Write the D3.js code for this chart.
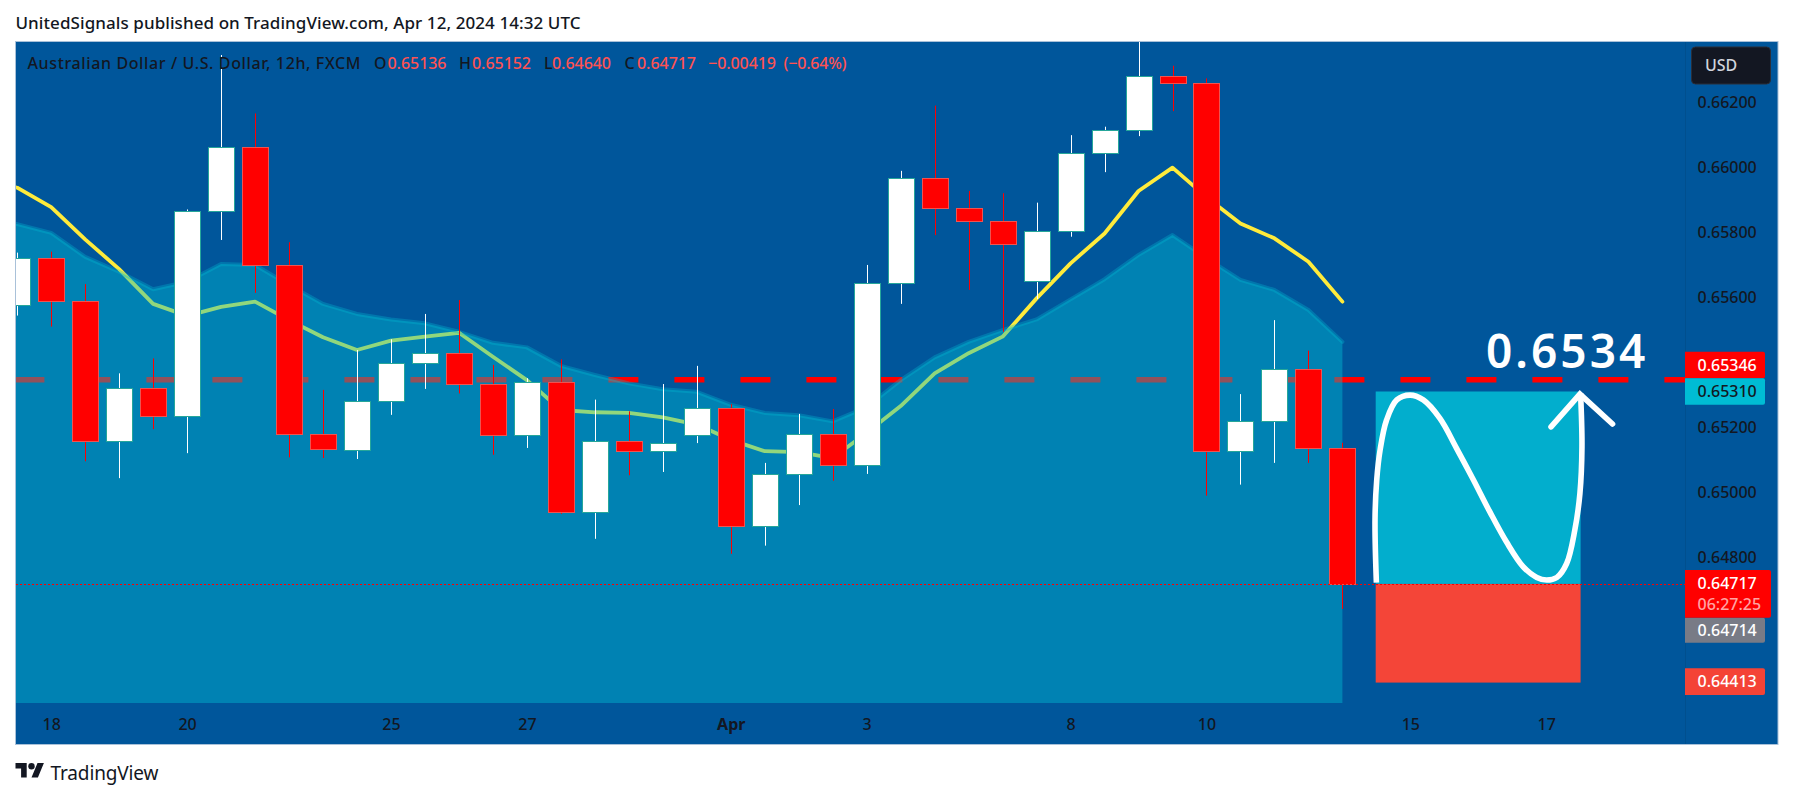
<!DOCTYPE html>
<html>
<head>
<meta charset="utf-8">
<style>
  html, body { margin: 0; padding: 0; background: #fff; overflow: hidden; }
  svg { display: block; }
  text { font-family: "Noto Sans", "Open Sans", sans-serif; font-weight: 500; }
</style>
</head>
<body>
<svg id="chart" width="1793" height="798"></svg>
<script src="https://cdn.jsdelivr.net/npm/d3@7"></script>
<script>
// candles, 12h bars, one per index
const opens = [0.65577,0.6572,0.6559,0.65159,0.65322,0.65233,0.65865,0.66063,0.65699,0.6518,0.65129,0.65282,0.65399,0.65428,0.65332,0.65175,0.6534,0.64938,0.65159,0.65126,0.65175,0.65258,0.64894,0.65057,0.6518,0.65082,0.65643,0.65969,0.65874,0.65834,0.65651,0.65804,0.66044,0.66115,0.66283,0.66262,0.65126,0.65218,0.65378,0.65136];
const highs = [0.65738,0.65741,0.65641,0.65366,0.65412,0.65871,0.66347,0.66167,0.6577,0.65315,0.65438,0.65471,0.65549,0.65592,0.65392,0.65351,0.65409,0.65285,0.65249,0.65333,0.65389,0.65271,0.6509,0.65241,0.65256,0.657,0.6599,0.66191,0.65928,0.65921,0.65892,0.661,0.66126,0.664,0.66314,0.66275,0.65302,0.6553,0.65436,0.65152];
const lows = [0.65544,0.6551,0.65095,0.65043,0.65194,0.6512,0.65777,0.65614,0.65107,0.65105,0.65102,0.65238,0.65318,0.65304,0.65115,0.65136,0.64933,0.64856,0.65052,0.65062,0.65151,0.6481,0.64835,0.6496,0.65035,0.65056,0.6558,0.65792,0.65623,0.65494,0.65595,0.65787,0.65986,0.66097,0.66174,0.64989,0.65023,0.6509,0.6509,0.6464];
const closes = [0.6572,0.6559,0.65159,0.65322,0.65233,0.65865,0.66063,0.65699,0.6518,0.65134,0.65282,0.65399,0.65428,0.65332,0.65175,0.6534,0.64938,0.65159,0.65126,0.65152,0.65258,0.64894,0.65057,0.6518,0.65082,0.65643,0.65969,0.65874,0.65834,0.65765,0.65804,0.66044,0.66115,0.66283,0.66262,0.65126,0.65218,0.65378,0.65136,0.64717];

// the two moving averages start one bar before the first candle
const avgFrom = -1;
const fastAvg = [0.65968,0.65938,0.65878,0.65779,0.65687,0.6558,0.65543,0.65571,0.65587,0.6553,0.65477,0.65438,0.65467,0.65479,0.65491,0.65417,0.65345,0.65253,0.65246,0.65244,0.6523,0.65208,0.65161,0.65126,0.65123,0.65105,0.65183,0.65265,0.65366,0.65428,0.65479,0.65597,0.65705,0.65797,0.65928,0.66,0.65909,0.65828,0.65782,0.6571,0.65587];
const slowAvg = [0.65838,0.65826,0.65799,0.65725,0.65679,0.65625,0.65648,0.65703,0.657,0.65638,0.6558,0.65549,0.65532,0.6552,0.65494,0.6546,0.65446,0.65389,0.65361,0.65335,0.65317,0.65309,0.65269,0.65244,0.65237,0.65218,0.65262,0.65345,0.65415,0.65463,0.65499,0.65532,0.65594,0.65656,0.65731,0.65792,0.65721,0.65654,0.65623,0.65561,0.65463];

const priceTicks = [0.662,0.66,0.658,0.656,0.652,0.65,0.648];
const timeTickIdx = [1,5,11,15,21,25,31,35,41,45];
const timeTickLabels = ["18","20","25","27","Apr","3","8","10","15","17"];

const resistance = 0.65346;
const entryPrice = 0.64717;
const targetPrice = 0.6531;
const stopPrice = 0.64413;
const toolFrom = 39.98, toolTo = 46.01;

// hand drawn swing, in bar index / price
const swingIdx = [40,39.96,40.01,40.11,40.3,40.6,40.99,41.38,41.87,42.36,42.85,43.34,43.83,44.32,44.72,45.01,45.31,45.6,45.84,45.99,46.05,46.01];
const swingPrice = [0.64721,0.64914,0.65037,0.6513,0.65222,0.65284,0.65299,0.65284,0.65227,0.65135,0.65039,0.64939,0.64846,0.6477,0.64737,0.64729,0.64737,0.6478,0.64883,0.64996,0.6514,0.65304];
const arrowIdx = [45.14,45.99,46.95];
const arrowPrice = [0.65201,0.65302,0.6521];

const frame = { left: 15.5, top: 41.5, right: 1778, bottom: 744.5 };
const paneRight = 1685, paneBottom = 703;

const BG = "#00569b", INK = "#131722", RED = "#ff0000", TEAL = "#00bcd4";

const svg = d3.select("#chart");
const x = d3.scaleLinear().domain([0, 39]).range([17.2, 1342.4]);
const y = d3.scaleLinear().domain([0.648, 0.662]).range([557, 102.7]);

svg.append("rect").attr("x", frame.left).attr("y", frame.top)
  .attr("width", frame.right - frame.left).attr("height", frame.bottom - frame.top)
  .attr("fill", BG).attr("stroke", "#a9c1d9").attr("stroke-width", 1);

svg.append("defs").append("clipPath").attr("id", "pane")
  .append("rect").attr("x", frame.left + 0.5).attr("y", frame.top + 0.5)
  .attr("width", paneRight - frame.left - 0.5).attr("height", paneBottom - frame.top - 0.5);

const pane = svg.append("g").attr("clip-path", "url(#pane)");

// ── Resistance line, sits under the average fill ──
pane.append("line")
  .attr("x1", 14.4).attr("x2", paneRight)
  .attr("y1", y(resistance)).attr("y2", y(resistance))
  .attr("stroke", RED).attr("stroke-width", 5.5)
  .attr("stroke-dasharray", "30,36");

// ── Moving averages ──
const avgX = (d, i) => x(i + avgFrom);
pane.append("path")
  .attr("d", d3.line().x(avgX).y((d) => y(d))(fastAvg))
  .attr("fill", "none").attr("stroke", "#ffeb3b").attr("stroke-width", 3.8)
  .attr("stroke-linejoin", "round").attr("stroke-linecap", "round");

pane.append("path")
  .attr("d", d3.area().x(avgX).y0(paneBottom).y1((d) => y(d))(slowAvg))
  .attr("fill", TEAL).attr("fill-opacity", 0.43);

pane.append("path")
  .attr("d", d3.line().x(avgX).y((d) => y(d))(slowAvg))
  .attr("fill", "none").attr("stroke", TEAL).attr("stroke-opacity", 0.32).attr("stroke-width", 4)
  .attr("stroke-linejoin", "round").attr("stroke-linecap", "round");

// ── Candles ──
const bodyW = 26;
const bars = opens.map((o, i) => ({ i, o, h: highs[i], l: lows[i], c: closes[i], up: closes[i] >= o }));

pane.selectAll(".wick").data(bars).join("line")
  .attr("class", "wick")
  .attr("x1", (d) => Math.round(x(d.i)) + 0.5).attr("x2", (d) => Math.round(x(d.i)) + 0.5)
  .attr("y1", (d) => y(d.h)).attr("y2", (d) => y(d.l))
  .attr("stroke", (d) => (d.up ? "#ffffff" : RED)).attr("stroke-width", 1);

pane.selectAll(".body").data(bars).join("rect")
  .attr("class", "body")
  .attr("x", (d) => Math.round(x(d.i) - bodyW / 2) + 0.5)
  .attr("y", (d) => Math.round(y(Math.max(d.o, d.c))) + 0.5)
  .attr("width", bodyW)
  .attr("height", (d) => Math.max(1, Math.round(y(Math.min(d.o, d.c))) - Math.round(y(Math.max(d.o, d.c)))))
  .attr("fill", (d) => (d.up ? "#ffffff" : RED))
  .attr("stroke", (d) => (d.up ? "#26a69a" : "#ef5350")).attr("stroke-width", 1);

// ── Long position tool ──
pane.append("rect")
  .attr("x", x(toolFrom)).attr("width", x(toolTo) - x(toolFrom))
  .attr("y", y(targetPrice)).attr("height", y(entryPrice) - y(targetPrice))
  .attr("fill", "#02aecd");
pane.append("rect")
  .attr("x", x(toolFrom)).attr("width", x(toolTo) - x(toolFrom))
  .attr("y", y(entryPrice)).attr("height", y(stopPrice) - y(entryPrice))
  .attr("fill", "#f44538");

// ── Swing drawing ──
pane.append("path")
  .attr("d", d3.line().x((d, i) => x(swingIdx[i])).y((d) => y(d)).curve(d3.curveCatmullRom.alpha(0.5))(swingPrice))
  .attr("fill", "none").attr("stroke", "#fff").attr("stroke-width", 5.6);
pane.append("path")
  .attr("d", d3.line().x((d, i) => x(arrowIdx[i])).y((d) => y(d))(arrowPrice))
  .attr("fill", "none").attr("stroke", "#fff").attr("stroke-width", 5.6)
  .attr("stroke-linecap", "round").attr("stroke-linejoin", "miter");

// ── Last price line ──
pane.append("line")
  .attr("x1", 16).attr("x2", paneRight)
  .attr("y1", Math.round(y(entryPrice)) + 0.5).attr("y2", Math.round(y(entryPrice)) + 0.5)
  .attr("stroke", RED).attr("stroke-width", 1).attr("stroke-dasharray", "2,2");

svg.append("text").attr("x", 1486).attr("y", 367.5)
  .attr("font-size", 46).attr("letter-spacing", 3).attr("fill", "#fff")
  .style("font-weight", 600).text("0.6534");

// ── Axes ──
svg.append("line").attr("x1", paneRight + 0.5).attr("x2", paneRight + 0.5)
  .attr("y1", frame.top + 0.5).attr("y2", frame.bottom - 0.5)
  .attr("stroke", "#004f8e");

const priceAxis = svg.append("g")
  .attr("transform", `translate(1697.5,0)`)
  .call(d3.axisRight(y).tickValues(priceTicks).tickSize(0).tickPadding(0).tickFormat((d) => d.toFixed(5)));
priceAxis.select(".domain").remove();
priceAxis.selectAll("text").attr("font-size", 16).attr("fill", INK)
  .style("font-family", '"Noto Sans", sans-serif');

const timeAxis = svg.append("g")
  .attr("transform", `translate(0,719)`)
  .call(d3.axisBottom(x).tickValues(timeTickIdx).tickSize(0).tickPadding(0)
    .tickFormat((d) => timeTickLabels[timeTickIdx.indexOf(d)]));
timeAxis.select(".domain").remove();
timeAxis.selectAll("text").attr("font-size", 16).attr("fill", INK)
  .style("font-weight", (d) => (d === 21 ? 700 : 500))
  .style("font-family", '"Noto Sans", sans-serif');

// ── Price labels ──
const priceTags = [
  { top: 351.7, h: 26.6, w: 80, fill: RED, color: "#fff", text: resistance.toFixed(5) },
  { top: 378.3, h: 26.4, w: 80, fill: TEAL, color: INK, text: targetPrice.toFixed(5) },
  { top: 617.7, h: 25, w: 80, fill: "#787b86", color: "#fff", text: "0.64714" },
  { top: 668.3, h: 26.7, w: 80, fill: "#f44336", color: "#fff", text: stopPrice.toFixed(5) },
];
const tags = svg.selectAll(".tag").data(priceTags).join("g").attr("class", "tag");
tags.append("path")
  .attr("d", (d) => `M${paneRight} ${d.top}h${d.w - 2}q2 0 2 2v${d.h - 4}q0 2 -2 2h${-(d.w - 2)}z`)
  .attr("fill", (d) => d.fill);
tags.append("text").attr("x", 1697.5).attr("y", (d) => d.top + d.h / 2 + 5.7)
  .attr("font-size", 16).attr("fill", (d) => d.color).text((d) => d.text);

svg.append("path")
  .attr("d", `M${paneRight} 570h84q2 0 2 2v43.7q0 2 -2 2h-84z`)
  .attr("fill", RED);
svg.append("text").attr("x", 1697.5).attr("y", 589).attr("font-size", 16).attr("fill", "#fff").text(entryPrice.toFixed(5));
svg.append("text").attr("x", 1697.5).attr("y", 609.7).attr("font-size", 16).attr("fill", "#ffa3a3").text("06:27:25");

// ── Currency button ──
svg.append("rect").attr("x", 1691.5).attr("y", 47).attr("width", 79).attr("height", 37).attr("rx", 4)
  .attr("fill", INK).attr("stroke", "#2a2e39");
svg.append("text").attr("x", 1705).attr("y", 71.4).attr("font-size", 16).attr("fill", "#d1d4dc").text("USD");

// ── Legend line ──
const last = opens.length - 1;
const change = closes[last] - opens[last];
const legendBits = [
  { x: 27.5, w: 333, text: "Australian Dollar / U.S. Dollar, 12h, FXCM", fill: INK },
  { x: 374, text: "O", fill: INK },
  { x: 387.5, w: 59, text: opens[last].toFixed(5), fill: "#ff5252" },
  { x: 459, text: "H", fill: INK },
  { x: 472, w: 59, text: highs[last].toFixed(5), fill: "#ff5252" },
  { x: 544, text: "L", fill: INK },
  { x: 552, w: 59, text: lows[last].toFixed(5), fill: "#ff5252" },
  { x: 624.6, text: "C", fill: INK },
  { x: 637, w: 59, text: closes[last].toFixed(5), fill: "#ff5252" },
  { x: 708, w: 68, text: "\u2212" + Math.abs(change).toFixed(5), fill: "#ff5252" },
  { x: 783.6, w: 63, text: "(\u2212" + Math.abs(change / opens[last] * 100).toFixed(2) + "%)", fill: "#ff5252" },
];
svg.selectAll(".legend").data(legendBits).join("text")
  .attr("class", "legend").attr("x", (d) => d.x).attr("y", 69)
  .attr("font-size", 16).attr("fill", (d) => d.fill)
  .attr("textLength", (d) => d.w || null).attr("lengthAdjust", "spacing")
  .text((d) => d.text);

// ── Page header and footer ──
svg.append("text").attr("x", 15.5).attr("y", 29).attr("font-size", 17).attr("fill", INK)
  .attr("textLength", 565).attr("lengthAdjust", "spacing")
  .text("UnitedSignals published on TradingView.com, Apr 12, 2024 14:32 UTC");

const logo = svg.append("g").attr("transform", "translate(15.5,759.8) scale(0.8)").attr("fill", INK);
logo.append("path").attr("d", "M14 22H7V11H0V4h14v18zM28 22h-8l7.5-18h8L28 22z");
logo.append("circle").attr("cx", 20).attr("cy", 8).attr("r", 4);
svg.append("text").attr("x", 50.5).attr("y", 780).attr("font-size", 19).attr("fill", INK)
  .style("font-weight", 400).attr("textLength", 108).attr("lengthAdjust", "spacing").text("TradingView");
</script>
</body>
</html>
